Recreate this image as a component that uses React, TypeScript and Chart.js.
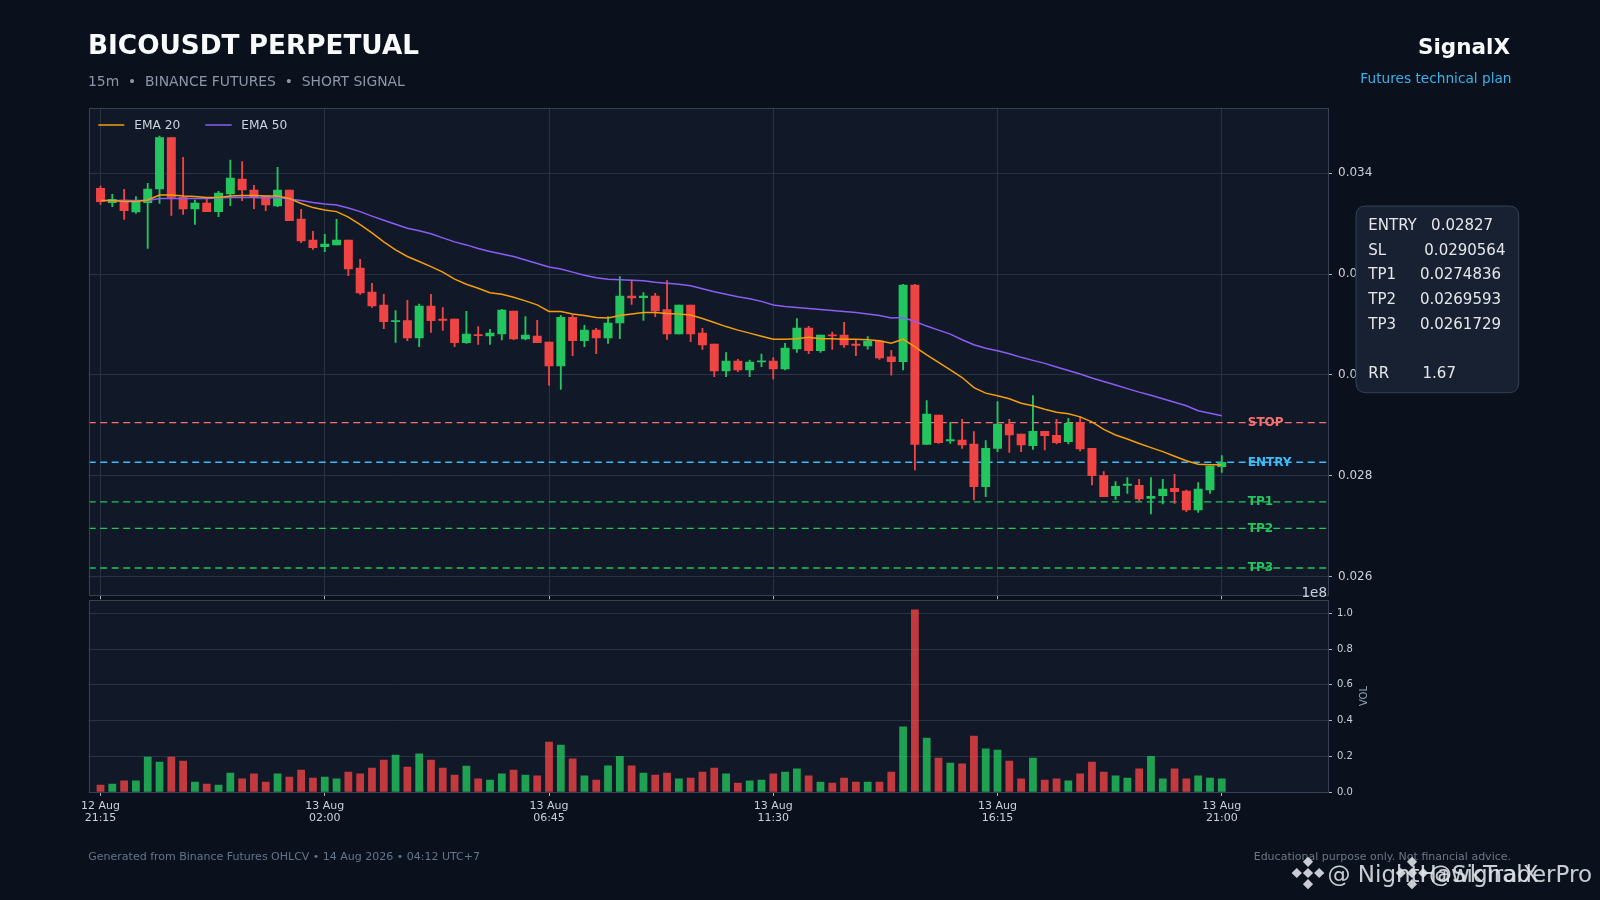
import React, { useEffect, useRef } from "react";
import { Chart, registerables } from "chart.js";

Chart.register(...registerables);

// ---------------- DATA ----------------
const OPEN = [0.033702, 0.033417, 0.033470, 0.033232, 0.033417, 0.033688, 0.034706, 0.033523, 0.033292, 0.033411,
  0.033239, 0.033589, 0.033887, 0.033669, 0.033550, 0.033351, 0.033669, 0.033094, 0.032677, 0.032545,
  0.032578, 0.032677, 0.032122, 0.031646, 0.031388, 0.031057, 0.031077, 0.030734, 0.031368, 0.031104,
  0.031110, 0.030641, 0.030800, 0.030773, 0.030813, 0.031269, 0.030714, 0.030773, 0.030654, 0.030178,
  0.031143, 0.030681, 0.030892, 0.030734, 0.031031, 0.031567, 0.031534, 0.031567, 0.031296, 0.030813,
  0.031388, 0.030833, 0.030615, 0.030079, 0.030278, 0.030100, 0.030258, 0.030278, 0.030120, 0.030516,
  0.030932, 0.030483, 0.030794, 0.030794, 0.030609, 0.030576, 0.030675, 0.030358, 0.030265, 0.031785,
  0.028625, 0.029207, 0.028691, 0.028711, 0.028632, 0.027786, 0.028546, 0.029028, 0.028830, 0.028598,
  0.028883, 0.028803, 0.028678, 0.029061, 0.028546, 0.028004, 0.027607, 0.027812, 0.027812, 0.027554,
  0.027607, 0.027752, 0.027700, 0.027323, 0.027719, 0.028182];

const HIGH = [0.033748, 0.033583, 0.033682, 0.033536, 0.033801, 0.034739, 0.034706, 0.034316, 0.033470, 0.033503,
  0.033642, 0.034263, 0.034230, 0.033761, 0.033550, 0.034118, 0.033669, 0.033285, 0.032849, 0.032789,
  0.033087, 0.032677, 0.032294, 0.031818, 0.031600, 0.031276, 0.031481, 0.031408, 0.031600, 0.031335,
  0.031110, 0.031263, 0.030958, 0.030905, 0.031302, 0.031269, 0.031157, 0.031084, 0.030654, 0.031183,
  0.031196, 0.030985, 0.030925, 0.031157, 0.031950, 0.031884, 0.031633, 0.031620, 0.031871, 0.031388,
  0.031388, 0.030925, 0.030615, 0.030443, 0.030311, 0.030298, 0.030417, 0.030344, 0.030628, 0.031118,
  0.030965, 0.030794, 0.030853, 0.031045, 0.030695, 0.030761, 0.030675, 0.030490, 0.031798, 0.031798,
  0.029491, 0.029207, 0.029062, 0.029121, 0.028876, 0.028698, 0.029471, 0.029121, 0.028830, 0.029590,
  0.028883, 0.029121, 0.029141, 0.029174, 0.028546, 0.028083, 0.027885, 0.027964, 0.027931, 0.027964,
  0.027931, 0.028030, 0.027719, 0.027865, 0.028195, 0.028400];

const LOW = [0.033384, 0.033338, 0.033087, 0.033206, 0.032512, 0.033404, 0.033166, 0.033186, 0.032988, 0.033239,
  0.033140, 0.033358, 0.033457, 0.033298, 0.033259, 0.033338, 0.033060, 0.032624, 0.032492, 0.032446,
  0.032578, 0.031970, 0.031600, 0.031342, 0.030919, 0.030648, 0.030681, 0.030562, 0.030846, 0.030886,
  0.030562, 0.030628, 0.030608, 0.030608, 0.030694, 0.030701, 0.030694, 0.030641, 0.029795, 0.029716,
  0.030383, 0.030562, 0.030423, 0.030628, 0.030720, 0.031401, 0.031084, 0.031157, 0.030707, 0.030813,
  0.030661, 0.030509, 0.029967, 0.029967, 0.030067, 0.029968, 0.030166, 0.029915, 0.030100, 0.030450,
  0.030424, 0.030450, 0.030509, 0.030549, 0.030384, 0.030510, 0.030311, 0.029999, 0.030100, 0.028116,
  0.028625, 0.028645, 0.028645, 0.028546, 0.027521, 0.027587, 0.028480, 0.028467, 0.028480, 0.028526,
  0.028513, 0.028632, 0.028632, 0.028493, 0.027819, 0.027587, 0.027534, 0.027653, 0.027508, 0.027243,
  0.027442, 0.027455, 0.027290, 0.027277, 0.027653, 0.028070];

const CLOSE = [0.033437, 0.033483, 0.033259, 0.033444, 0.033688, 0.034706, 0.033523, 0.033292, 0.033411, 0.033239,
  0.033609, 0.033907, 0.033669, 0.033523, 0.033371, 0.033669, 0.033060, 0.032657, 0.032525, 0.032598,
  0.032677, 0.032102, 0.031626, 0.031368, 0.031057, 0.031077, 0.030734, 0.031368, 0.031077, 0.031084,
  0.030641, 0.030813, 0.030780, 0.030833, 0.031289, 0.030714, 0.030793, 0.030641, 0.030178, 0.031143,
  0.030681, 0.030892, 0.030734, 0.031031, 0.031567, 0.031527, 0.031567, 0.031269, 0.030813, 0.031388,
  0.030813, 0.030595, 0.030079, 0.030277, 0.030100, 0.030258, 0.030278, 0.030120, 0.030536, 0.030932,
  0.030483, 0.030794, 0.030774, 0.030595, 0.030589, 0.030675, 0.030338, 0.030265, 0.031785, 0.028625,
  0.029227, 0.028658, 0.028718, 0.028612, 0.027786, 0.028546, 0.029028, 0.028810, 0.028612, 0.028883,
  0.028797, 0.028658, 0.029041, 0.028532, 0.028004, 0.027587, 0.027792, 0.027825, 0.027541, 0.027594,
  0.027739, 0.027686, 0.027323, 0.027739, 0.028195, 0.028268];

// volume in units of 1e8
const VOLUME_E8 = [0.039, 0.045, 0.062, 0.062, 0.196, 0.168, 0.196, 0.173, 0.056, 0.045,
  0.039, 0.106, 0.073, 0.101, 0.056, 0.101, 0.084, 0.123, 0.078, 0.084,
  0.073, 0.112, 0.101, 0.134, 0.179, 0.207, 0.140, 0.213, 0.179, 0.134,
  0.095, 0.145, 0.073, 0.067, 0.101, 0.123, 0.095, 0.090, 0.280, 0.263,
  0.185, 0.090, 0.067, 0.146, 0.200, 0.146, 0.106, 0.095, 0.106, 0.073,
  0.078, 0.112, 0.134, 0.101, 0.050, 0.062, 0.067, 0.101, 0.112, 0.129,
  0.090, 0.056, 0.050, 0.078, 0.056, 0.056, 0.056, 0.112, 0.364, 1.020,
  0.302, 0.190, 0.162, 0.157, 0.313, 0.241, 0.235, 0.173, 0.073, 0.190,
  0.067, 0.073, 0.062, 0.101, 0.168, 0.112, 0.090, 0.078, 0.129, 0.200,
  0.073, 0.129, 0.073, 0.090, 0.078, 0.073];

const EMA20 = [0.03346, 0.03346, 0.03344, 0.03344, 0.03347, 0.03357, 0.03357, 0.03355, 0.03354, 0.03352,
  0.03352, 0.03355, 0.03356, 0.03356, 0.03355, 0.03355, 0.03350, 0.03340, 0.03332, 0.03327,
  0.03324, 0.03313, 0.03298, 0.03282, 0.03264, 0.03248, 0.03235, 0.03225, 0.03215, 0.03204,
  0.03190, 0.03180, 0.03172, 0.03163, 0.03160, 0.03154, 0.03147, 0.03139, 0.03126, 0.03126,
  0.03121, 0.03118, 0.03114, 0.03113, 0.03118, 0.03121, 0.03124, 0.03124, 0.03122, 0.03121,
  0.03119, 0.03112, 0.03104, 0.03096, 0.03089, 0.03083, 0.03077, 0.03071, 0.03071, 0.03072,
  0.03075, 0.03072, 0.03072, 0.03071, 0.03071, 0.03070, 0.03068, 0.03063, 0.03071, 0.03056,
  0.03040, 0.03025, 0.03010, 0.02995, 0.02975, 0.02964, 0.02959, 0.02953, 0.02944, 0.02939,
  0.02932, 0.02926, 0.02923, 0.02917, 0.02907, 0.02892, 0.02881, 0.02873, 0.02864, 0.02856,
  0.02848, 0.02839, 0.02830, 0.02823, 0.02822, 0.02822];

const EMA50 = [0.03346, 0.03346, 0.03346, 0.03346, 0.03346, 0.03350, 0.03350, 0.03350, 0.03350, 0.03350,
  0.03351, 0.03352, 0.03352, 0.03352, 0.03351, 0.03352, 0.03349, 0.03346, 0.03342, 0.03339,
  0.03337, 0.03331, 0.03324, 0.03315, 0.03307, 0.03299, 0.03291, 0.03286, 0.03280, 0.03272,
  0.03264, 0.03258, 0.03251, 0.03245, 0.03240, 0.03235, 0.03228, 0.03221, 0.03214, 0.03210,
  0.03204, 0.03198, 0.03193, 0.03190, 0.03189, 0.03188, 0.03187, 0.03184, 0.03182, 0.03180,
  0.03177, 0.03171, 0.03165, 0.03160, 0.03155, 0.03151, 0.03146, 0.03139, 0.03136, 0.03134,
  0.03132, 0.03130, 0.03128, 0.03126, 0.03124, 0.03121, 0.03118, 0.03113, 0.03114, 0.03106,
  0.03097, 0.03089, 0.03081, 0.03070, 0.03060, 0.03053, 0.03048, 0.03042, 0.03035, 0.03029,
  0.03023, 0.03016, 0.03009, 0.03002, 0.02994, 0.02987, 0.02980, 0.02973, 0.02966, 0.02960,
  0.02953, 0.02946, 0.02939, 0.02929, 0.02924, 0.02919];

const X_TICK_INDEX = [0, 19, 38, 57, 76, 95];
const X_TICK_DATE = ["12 Aug", "13 Aug", "13 Aug", "13 Aug", "13 Aug", "13 Aug"];
const X_TICK_TIME = ["21:15", "02:00", "06:45", "11:30", "16:15", "21:00"];
const PRICE_TICKS = [0.026, 0.028, 0.03, 0.032, 0.034];
const VOL_TICKS = [0, 0.2, 0.4, 0.6, 0.8, 1.0];

const LEVEL_NAMES = ["STOP", "ENTRY", "TP1", "TP2", "TP3"];
const LEVEL_VALUES = [0.0290564, 0.02827, 0.0274836, 0.0269593, 0.0261729];
const INFO_LABELS = ["ENTRY   ", "SL        ", "TP1     ", "TP2     ", "TP3     ", "", "RR       "];
const INFO_VALUES = ["0.02827", "0.0290564", "0.0274836", "0.0269593", "0.0261729", "", "1.67"];

// ---------------- STYLE ----------------
const FONT = '"DejaVu Sans", "Noto Sans", sans-serif';
const PAGE_BG = "#0b111c";
const PLOT_BG = "#111827";
const GRID = "#283243";
const FRAME = "#364254";
const TICK = "#a9b2bf";
const TICK_LABEL = "#c9d1dc";
const UP = "#22c55e";
const DOWN = "#ef4444";
const UP_VOL = "rgba(34,197,94,0.8)";
const DOWN_VOL = "rgba(239,68,68,0.8)";
const EMA20_COLOR = "#f59e0b";
const EMA50_COLOR = "#8b5cf6";
const LEVEL_COLORS = ["#f87171", "#38bdf8", "#22c55e", "#22c55e", "#22c55e"];

const X_MIN = -1;
const X_MAX = 104;
const PRICE_MIN = 0.025631;
const PRICE_MAX = 0.035291;
const VOL_MAX = 1.0727;
const LEVEL_LABEL_X = 97.2;

function frameAndBg(chart: any, fill: boolean) {
  const { ctx, chartArea: a } = chart;
  ctx.save();
  if (fill) {
    ctx.fillStyle = PLOT_BG;
    ctx.fillRect(a.left, a.top, a.right - a.left, a.bottom - a.top);
  } else {
    ctx.strokeStyle = FRAME;
    ctx.lineWidth = 1;
    ctx.strokeRect(Math.round(a.left) + 0.5, Math.round(a.top) + 0.5, Math.round(a.right - a.left), Math.round(a.bottom - a.top));
  }
  ctx.restore();
}

function roundRect(ctx: CanvasRenderingContext2D, x: number, y: number, w: number, h: number, r: number) {
  ctx.beginPath();
  ctx.moveTo(x + r, y);
  ctx.lineTo(x + w - r, y);
  ctx.quadraticCurveTo(x + w, y, x + w, y + r);
  ctx.lineTo(x + w, y + h - r);
  ctx.quadraticCurveTo(x + w, y + h, x + w - r, y + h);
  ctx.lineTo(x + r, y + h);
  ctx.quadraticCurveTo(x, y + h, x, y + h - r);
  ctx.lineTo(x, y + r);
  ctx.quadraticCurveTo(x, y, x + r, y);
  ctx.closePath();
}

function drawLogo(ctx: CanvasRenderingContext2D, cx: number, cy: number, s: number) {
  const d = s * 0.3;
  const off = s * 0.66;
  const pts = [[0, 0], [0, -off], [0, off], [-off, 0], [off, 0]];
  for (const [px, py] of pts) {
    ctx.beginPath();
    ctx.moveTo(cx + px, cy + py - d);
    ctx.lineTo(cx + px + d, cy + py);
    ctx.lineTo(cx + px, cy + py + d);
    ctx.lineTo(cx + px - d, cy + py);
    ctx.closePath();
    ctx.fill();
  }
}

const mainDecor = {
  id: "mainDecor",
  beforeDraw(chart: any) {
    frameAndBg(chart, true);
  },
  afterDraw(chart: any) {
    const { ctx } = chart;
    frameAndBg(chart, false);
    const xs = chart.scales.x;
    const ys = chart.scales.y;
    ctx.save();
    // level labels
    ctx.font = `bold 12px ${FONT}`;
    ctx.textAlign = "left";
    ctx.textBaseline = "alphabetic";
    LEVEL_NAMES.forEach((name, i) => {
      ctx.fillStyle = LEVEL_COLORS[i];
      ctx.fillText(name, xs.getPixelForValue(LEVEL_LABEL_X), ys.getPixelForValue(LEVEL_VALUES[i]) + 3.4);
    });
    // legend
    ctx.lineWidth = 1.5;
    ctx.strokeStyle = EMA20_COLOR;
    ctx.beginPath(); ctx.moveTo(98.3, 125); ctx.lineTo(124.3, 125); ctx.stroke();
    ctx.strokeStyle = EMA50_COLOR;
    ctx.beginPath(); ctx.moveTo(205.3, 125); ctx.lineTo(231.7, 125); ctx.stroke();
    ctx.font = `12.2px ${FONT}`;
    ctx.fillStyle = "#cbd5e1";
    ctx.fillText("EMA 20", 134.3, 129.3);
    ctx.fillText("EMA 50", 241.3, 129.3);
    // header
    ctx.fillStyle = "#f8fafc";
    ctx.font = `bold 26.3px ${FONT}`;
    ctx.fillText("BICOUSDT PERPETUAL", 88, 54);
    ctx.fillStyle = "#8c96a8";
    ctx.font = `13.9px ${FONT}`;
    ctx.fillText("15m  \u2022  BINANCE FUTURES  \u2022  SHORT SIGNAL", 88, 86);
    ctx.textAlign = "right";
    ctx.fillStyle = "#f8fafc";
    ctx.font = `bold 21.5px ${FONT}`;
    ctx.fillText("SignalX", 1510, 54.3);
    ctx.fillStyle = "#38b2ea";
    ctx.font = `13.7px ${FONT}`;
    ctx.fillText("Futures technical plan", 1511.5, 83.3);
    // info box
    ctx.fillStyle = "#182131";
    ctx.strokeStyle = "#334155";
    ctx.lineWidth = 1;
    roundRect(ctx, 1356, 206, 162.7, 186.7, 10);
    ctx.fill();
    ctx.stroke();
    ctx.textAlign = "left";
    ctx.fillStyle = "#e5e7eb";
    ctx.font = `15px ${FONT}`;
    INFO_LABELS.forEach((lab, i) => {
      const line = lab + INFO_VALUES[i];
      if (line.length) ctx.fillText(line, 1368.3, 230 + i * 24.7);
    });
    ctx.restore();
  },
};

const volDecor = {
  id: "volDecor",
  beforeDraw(chart: any) {
    frameAndBg(chart, true);
  },
  afterDraw(chart: any) {
    const { ctx } = chart;
    frameAndBg(chart, false);
    ctx.save();
    // VOL label
    ctx.translate(1364, 696);
    ctx.rotate(-Math.PI / 2);
    ctx.fillStyle = "#94a3b8";
    ctx.font = `10px ${FONT}`;
    ctx.textAlign = "center";
    ctx.textBaseline = "middle";
    ctx.fillText("VOL", 0, 0);
    ctx.restore();
    ctx.save();
    // offset text
    ctx.fillStyle = TICK_LABEL;
    ctx.font = `13.5px ${FONT}`;
    ctx.textAlign = "right";
    ctx.textBaseline = "alphabetic";
    ctx.fillText("1e8", 1327, 596.5);
    // footer
    ctx.fillStyle = "#64748b";
    ctx.font = `11px ${FONT}`;
    ctx.textAlign = "left";
    ctx.fillText("Generated from Binance Futures OHLCV \u2022 14 Aug 2026 \u2022 04:12 UTC+7", 88.3, 860);
    ctx.textAlign = "right";
    ctx.fillStyle = "#6b7587";
    ctx.fillText("Educational purpose only. Not financial advice.", 1511, 860);
    // watermark
    ctx.fillStyle = "rgba(222,226,232,0.9)";
    drawLogo(ctx, 1308, 873, 17);
    drawLogo(ctx, 1412, 873, 17);
    ctx.font = `23px ${FONT}`;
    ctx.textAlign = "left";
    ctx.fillText("@ NightHawkTraderPro", 1327.5, 882);
    ctx.fillText("@SignalX", 1429, 882);
    ctx.restore();
  },
};

export default function App() {
  const mainRef = useRef<HTMLCanvasElement>(null);
  const volRef = useRef<HTMLCanvasElement>(null);

  useEffect(() => {
    document.body.style.margin = "0";
    document.body.style.background = PAGE_BG;
    const idx = CLOSE.map((_, i) => i);
    const isUp = idx.map((i) => CLOSE[i] >= OPEN[i]);

    const main = new Chart(mainRef.current as HTMLCanvasElement, {
      type: "bar",
      data: {
        datasets: [
          ...LEVEL_VALUES.map((v, k) => ({
            type: "line" as const,
            label: LEVEL_NAMES[k],
            data: [{ x: X_MIN, y: v }, { x: X_MAX, y: v }],
            borderColor: LEVEL_COLORS[k],
            borderWidth: 1.3,
            borderDash: [7, 4.5],
            pointRadius: 0,
            order: 10,
          })),
          {
            type: "bar" as const,
            label: "wick",
            data: idx.map((i) => ({ x: i, y: [LOW[i], HIGH[i]] })),
            backgroundColor: idx.map((i) => (isUp[i] ? UP : DOWN)),
            barThickness: 1.2,
            grouped: false,
            order: 6,
          },
          {
            type: "bar" as const,
            label: "body",
            data: idx.map((i) => ({ x: i, y: [OPEN[i], CLOSE[i]] })),
            backgroundColor: idx.map((i) => (isUp[i] ? UP : DOWN)),
            barThickness: 8.3,
            minBarLength: 1.2,
            grouped: false,
            order: 5,
          },
          {
            type: "line" as const,
            label: "EMA 50",
            data: idx.map((i) => ({ x: i, y: EMA50[i] })),
            borderColor: EMA50_COLOR,
            borderWidth: 1.5,
            pointRadius: 0,
            tension: 0,
            order: 2,
          },
          {
            type: "line" as const,
            label: "EMA 20",
            data: idx.map((i) => ({ x: i, y: EMA20[i] })),
            borderColor: EMA20_COLOR,
            borderWidth: 1.5,
            pointRadius: 0,
            tension: 0,
            order: 1,
          },
        ] as any,
      },
      options: {
        responsive: false,
        maintainAspectRatio: false,
        animation: false,
        events: [],
        layout: { padding: { left: 88.7, right: 212, top: 108.2, bottom: 294.7 } },
        plugins: { legend: { display: false }, tooltip: { enabled: false }, title: { display: false } },
        scales: {
          x: {
            type: "linear",
            position: "bottom",
            min: X_MIN,
            max: X_MAX,
            offset: false,
            afterBuildTicks: (s: any) => { s.ticks = X_TICK_INDEX.map((v) => ({ value: v })); },
            afterFit: (s: any) => { s.height = 10; s.paddingLeft = 0; s.paddingRight = 0; },
            grid: { display: true, color: GRID, lineWidth: 1, drawOnChartArea: true, drawTicks: true, tickLength: 4, tickColor: TICK, offset: false },
            border: { display: false },
            ticks: { display: false },
          },
          y: {
            type: "linear",
            position: "right",
            min: PRICE_MIN,
            max: PRICE_MAX,
            afterBuildTicks: (s: any) => { s.ticks = PRICE_TICKS.map((v) => ({ value: v })); },
            afterFit: (s: any) => { s.width = 60; s.paddingTop = 0; s.paddingBottom = 0; },
            grid: { color: GRID, lineWidth: 1, drawTicks: true, tickLength: 4, tickColor: TICK },
            border: { display: false },
            ticks: {
              color: TICK_LABEL,
              font: { family: FONT, size: 12 },
              padding: 6,
              callback: (v: any) => Number(v).toFixed(3),
            },
          },
        },
      } as any,
      plugins: [mainDecor],
    });

    const vol = new Chart(volRef.current as HTMLCanvasElement, {
      type: "bar",
      data: {
        datasets: [
          {
            label: "VOL",
            data: idx.map((i) => ({ x: i, y: VOLUME_E8[i] })),
            backgroundColor: idx.map((i) => (isUp[i] ? UP_VOL : DOWN_VOL)),
            barThickness: 7.1,
            grouped: false,
          },
        ] as any,
      },
      options: {
        responsive: false,
        maintainAspectRatio: false,
        animation: false,
        events: [],
        layout: { padding: { left: 88.7, right: 212, top: 600.3, bottom: 68 } },
        plugins: { legend: { display: false }, tooltip: { enabled: false }, title: { display: false } },
        scales: {
          x: {
            type: "linear",
            position: "bottom",
            min: X_MIN,
            max: X_MAX,
            offset: false,
            afterBuildTicks: (s: any) => { s.ticks = X_TICK_INDEX.map((v) => ({ value: v })); },
            afterFit: (s: any) => { s.height = 40; s.paddingLeft = 0; s.paddingRight = 0; },
            grid: { display: true, drawOnChartArea: false, drawTicks: true, tickLength: 4, tickColor: TICK, offset: false },
            border: { display: false },
            ticks: {
              color: TICK_LABEL,
              font: { family: FONT, size: 11, lineHeight: 1.1 },
              padding: 4,
              autoSkip: false,
              maxRotation: 0,
              callback: (_v: any, i: number) => [X_TICK_DATE[i], X_TICK_TIME[i]],
            },
          },
          y: {
            type: "linear",
            position: "right",
            min: 0,
            max: VOL_MAX,
            afterBuildTicks: (s: any) => { s.ticks = VOL_TICKS.map((v) => ({ value: v })); },
            afterFit: (s: any) => { s.width = 60; s.paddingTop = 0; s.paddingBottom = 0; },
            grid: { color: GRID, lineWidth: 1, drawTicks: true, tickLength: 4, tickColor: TICK },
            border: { display: false },
            ticks: {
              color: TICK_LABEL,
              font: { family: FONT, size: 10 },
              padding: 5,
              callback: (v: any) => Number(v).toFixed(1),
            },
          },
        },
      } as any,
      plugins: [volDecor],
    });

    return () => {
      main.destroy();
      vol.destroy();
    };
  }, []);

  return (
    <div style={{ position: "fixed", left: 0, top: 0, width: 1600, height: 900, background: PAGE_BG, overflow: "hidden" }}>
      <canvas ref={mainRef} width={1600} height={900} style={{ position: "absolute", left: 0, top: 0, width: 1600, height: 900 }} />
      <canvas ref={volRef} width={1600} height={900} style={{ position: "absolute", left: 0, top: 0, width: 1600, height: 900 }} />
    </div>
  );
}
